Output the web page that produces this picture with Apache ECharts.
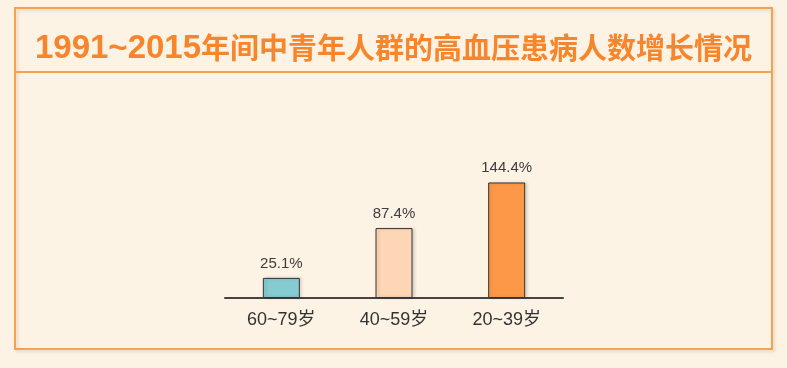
<!DOCTYPE html>
<html><head><meta charset="utf-8">
<script src="https://cdn.jsdelivr.net/npm/echarts@6/dist/echarts.min.js"></script>
<style>html,body{margin:0;padding:0;background:#fdf3e4;}#c{width:787px;height:368px;}</style>
</head><body><div id="c"></div>
<script>
const categories = ['60~79岁', '40~59岁', '20~39岁'];
const values = [25.1, 87.4, 144.4];
const labels = ['25.1%', '87.4%', '144.4%'];
const barColors = ['#86cad2', '#fdd6b5', '#fd9848'];

const chart = echarts.init(document.getElementById('c'), null, {renderer: 'canvas'});
chart.setOption({
  backgroundColor: '#fdf3e4',
  animation: false,
  title: {
    text: '{a|1991~2015}{b|年间中青年人群的高血压患病人数增长情况}',
    left: 'center', top: 27,
    textStyle: {
      rich: {
        a: {fontFamily: 'Liberation Sans', fontWeight: 'bold', fontSize: 33, color: '#f7852c', verticalAlign: 'middle', lineHeight: 34},
        b: {fontFamily: 'Noto Sans CJK SC', fontWeight: 'bold', fontSize: 29, color: '#f7852c', verticalAlign: 'middle', lineHeight: 34, padding: [0, 0, 2, 0]}
      }
    }
  },
  graphic: [
    {type: 'rect', shape: {x: 15, y: 8, width: 757, height: 341}, style: {fill: 'none', stroke: '#f9a04f', lineWidth: 2, shadowColor: 'rgba(0,0,0,0.12)', shadowBlur: 3, shadowOffsetX: 2, shadowOffsetY: 2}, z: 10},
    {type: 'line', shape: {x1: 15, y1: 72, x2: 772, y2: 72}, style: {stroke: '#f9a04f', lineWidth: 2}, z: 10}
  ],
  grid: {left: 225, right: 224, top: 138, bottom: 70},
  xAxis: {
    type: 'category', data: categories,
    axisLine: {lineStyle: {color: '#444', width: 2}},
    axisTick: {show: false},
    axisLabel: {fontFamily: 'Liberation Sans, Noto Sans CJK SC', fontSize: 18, color: '#333', margin: 13}
  },
  yAxis: {type: 'value', min: 0, max: 200, show: false},
  series: [{
    type: 'bar', barWidth: 37,
    data: values.map((v, i) => ({value: v, itemStyle: {color: barColors[i]}})),
    itemStyle: {borderColor: '#333', borderWidth: 1, shadowColor: 'rgba(0,0,0,0.15)', shadowBlur: 3, shadowOffsetX: 2, shadowOffsetY: 0},
    label: {
      show: true, position: 'top', distance: 7,
      formatter: p => labels[p.dataIndex],
      fontFamily: 'Liberation Sans', fontSize: 15, color: '#3d3d3d'
    }
  }]
});
</script></body></html>
